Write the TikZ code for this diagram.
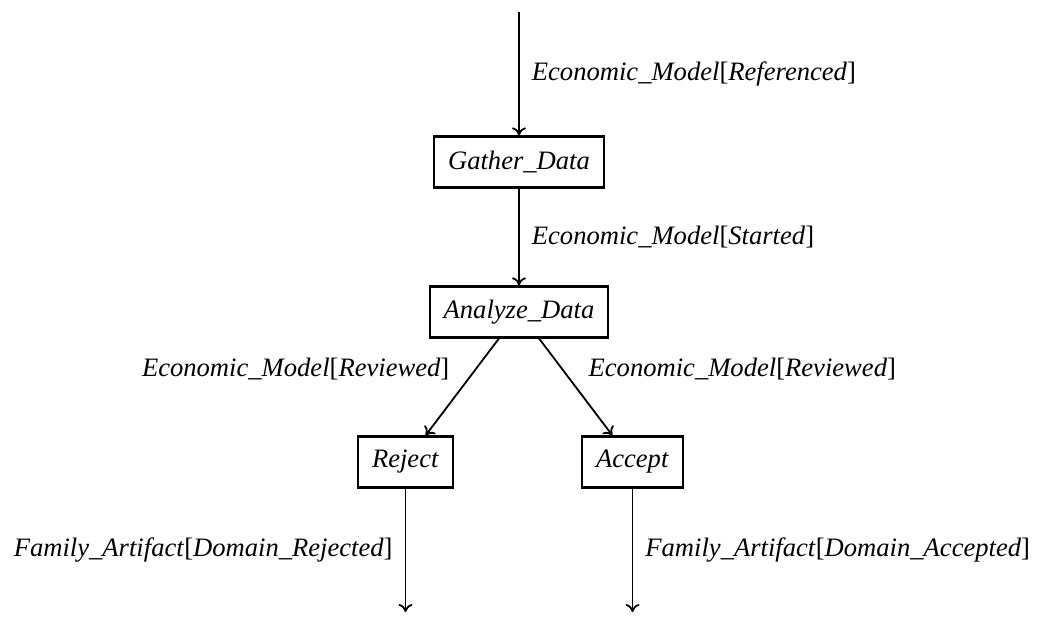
\documentclass[tikz,border=0pt]{standalone}
\usepackage{fontspec}
\setmainfont{Liberation Serif}
\usetikzlibrary{positioning, arrows.meta}

\begin{document}
\begin{tikzpicture}[level distance=75pt, sibling distance=113.5pt,
    every node/.style={font=\fontsize{13.3}{16}\selectfont},
    >={To[length=4pt, width=7pt]},
    edge from parent/.style={draw, line width=0.9pt, ->}]

  \useasboundingbox (0,0) rectangle (520.5pt,-308.5pt);

  \tikzstyle{task} = [rectangle, draw, line width=1.1pt, inner xsep=7pt, minimum height=25.5pt];
  \tikzstyle{flow} = [inner sep=6pt];
  \coordinate (start) at (259.5pt,-6pt)
    child {
      node[task] (gather) {\textit{Gather\_Data}}
      child {
        node[task] (analyze) {\textit{Analyze\_Data}}
        child {
          node[task] (reject) {\textit{Reject}}
          child { coordinate (rejectout)
            edge from parent node[flow, left] {\textit{Family\_Artifact}[\textit{Domain\_Rejected}]}
          }
          edge from parent node[flow, above left, inner ysep=3pt] {\textit{Economic\_Model}[\textit{Reviewed}]}
        }
        child {
          node[task] (accept) {\textit{Accept}}
          child { coordinate (acceptout)
            edge from parent node[flow, right] {\textit{Family\_Artifact}[\textit{Domain\_Accepted}]}
          }
          edge from parent node[flow, above right, inner ysep=3pt] {\textit{Economic\_Model}[\textit{Reviewed}]}
        }
        edge from parent node[flow, right] {\textit{Economic\_Model}[\textit{Started}]}
      }
      edge from parent node[flow, right] {\textit{Economic\_Model}[\textit{Referenced}]}
    };
\end{tikzpicture}
\end{document}
